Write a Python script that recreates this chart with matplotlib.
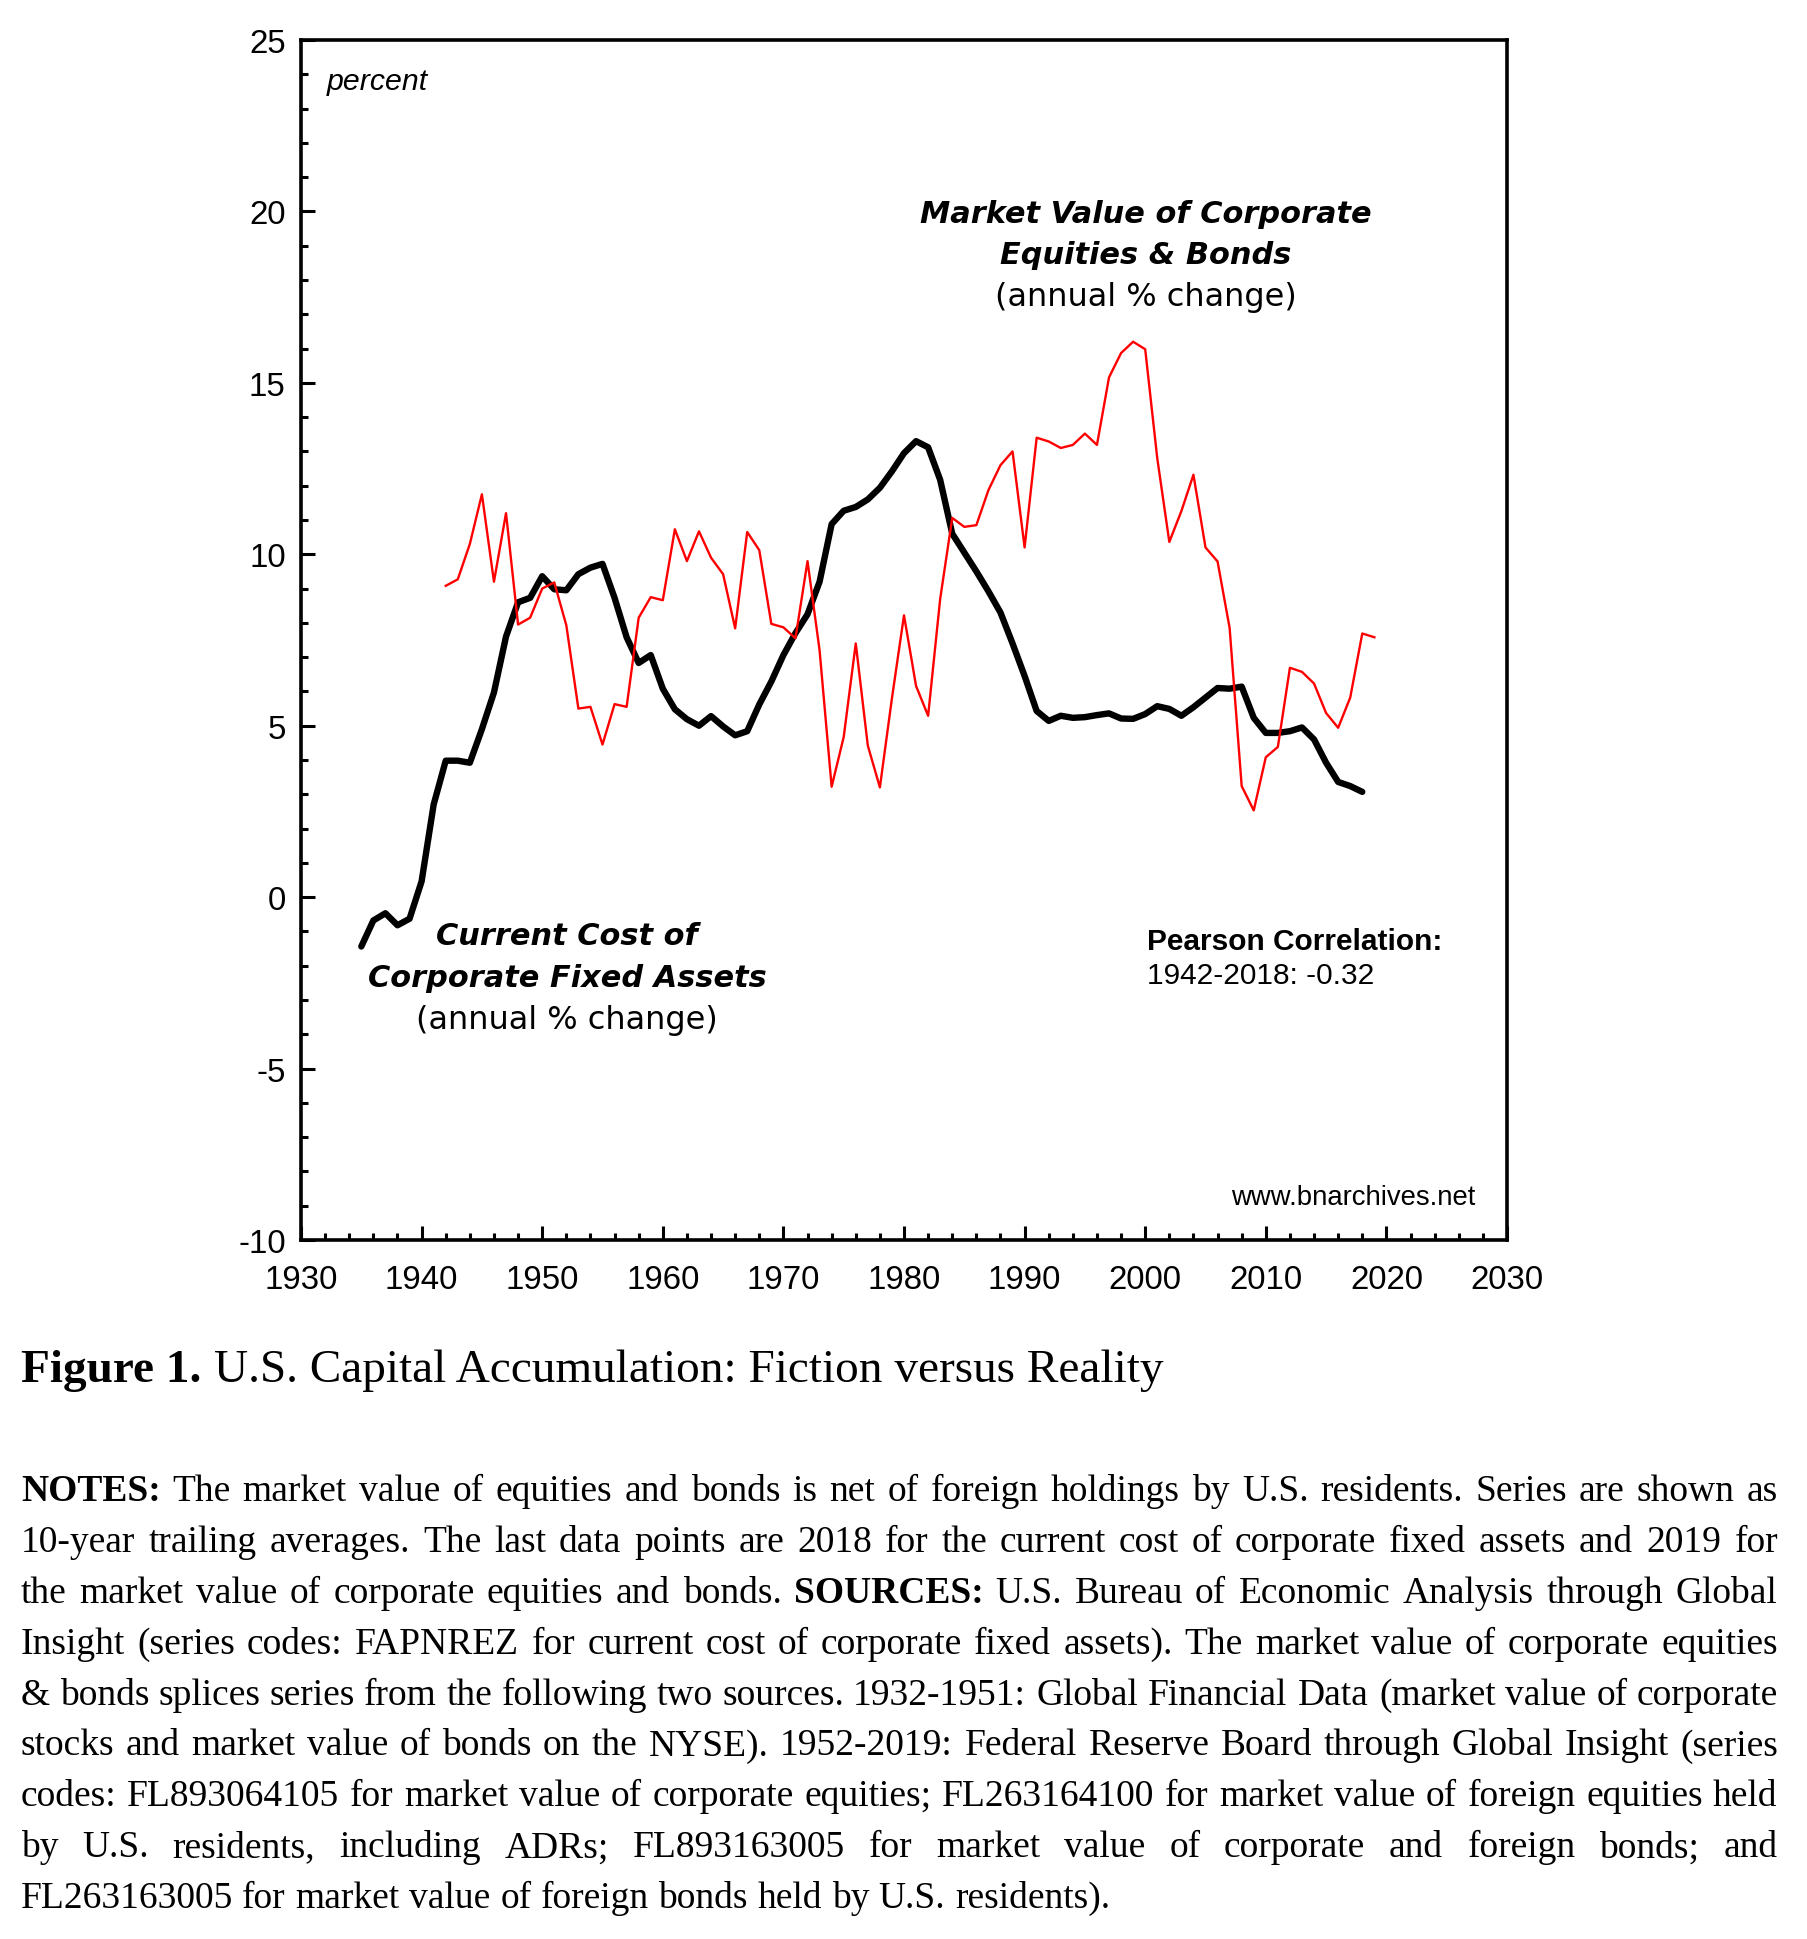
import matplotlib
matplotlib.use("Agg")
import matplotlib.pyplot as plt
from matplotlib.ticker import MultipleLocator

# ---------------- data ----------------
cost_years = list(range(1935, 2019))
cost_values = [
    -1.44, -0.68, -0.47, -0.82, -0.63, 0.46, 2.70, 3.98, 3.98, 3.92,   # 1935-1944
    4.90, 5.97, 7.60, 8.60, 8.73, 9.36, 8.98, 8.95, 9.42, 9.61,        # 1945-1954
    9.72, 8.73, 7.58, 6.83, 7.06, 6.08, 5.48, 5.19, 5.00, 5.28,        # 1955-1964
    4.98, 4.72, 4.84, 5.62, 6.29, 7.06, 7.70, 8.25, 9.20, 10.88,       # 1965-1974
    11.27, 11.38, 11.60, 11.94, 12.42, 12.95, 13.30, 13.12, 12.17, 10.60,  # 1975-1984
    10.05, 9.50, 8.92, 8.30, 7.40, 6.45, 5.43, 5.14, 5.29, 5.23,       # 1985-1994
    5.25, 5.31, 5.36, 5.21, 5.20, 5.34, 5.57, 5.49, 5.29, 5.54,        # 1995-2004
    5.82, 6.10, 6.08, 6.14, 5.23, 4.79, 4.79, 4.84, 4.95, 4.60,        # 2005-2014
    3.92, 3.36, 3.24, 3.07,                                            # 2015-2018
]

mkt_years = list(range(1942, 2020))
mkt_values = [
    9.08, 9.27, 10.30, 11.75, 9.20, 11.20, 7.95, 8.15,                 # 1942-1949
    9.00, 9.18, 7.93, 5.50, 5.55, 4.45, 5.63, 5.55, 8.15, 8.75,        # 1950-1959
    8.66, 10.73, 9.80, 10.67, 9.90, 9.42, 7.84, 10.65, 10.12, 7.97,    # 1960-1969
    7.87, 7.55, 9.80, 7.20, 3.22, 4.67, 7.40, 4.42, 3.20, 5.80,        # 1970-1979
    8.22, 6.16, 5.29, 8.70, 11.06, 10.80, 10.85, 11.87, 12.60, 13.00,  # 1980-1989
    10.20, 13.40, 13.29, 13.10, 13.19, 13.52, 13.19, 15.16, 15.87, 16.20,  # 1990-1999
    15.98, 12.80, 10.36, 11.26, 12.32, 10.20, 9.79, 7.85, 3.24, 2.53,  # 2000-2009
    4.08, 4.38, 6.69, 6.57, 6.23, 5.37, 4.94, 5.82, 7.69, 7.58,        # 2010-2019
]

x_limits = [1930, 2030]
y_limits = [-10, 25]

mkt_label = ["Market Value of Corporate", "Equities & Bonds", "(annual % change)"]
cost_label = ["Current Cost of", "Corporate Fixed Assets", "(annual % change)"]
corr_label = ["Pearson Correlation:", "1942-2018: -0.32"]
site_label = "www.bnarchives.net"
unit_label = "percent"

caption_bold = "Figure 1."
caption_rest = "U.S. Capital Accumulation: Fiction versus Reality"

note_lines = [
    "**NOTES:** The market value of equities and bonds is net of foreign holdings by U.S. residents. Series are shown as",
    "10-year trailing averages. The last data points are 2018 for the current cost of corporate fixed assets and 2019 for",
    "the market value of corporate equities and bonds. **SOURCES:** U.S. Bureau of Economic Analysis through Global",
    "Insight (series codes: FAPNREZ for current cost of corporate fixed assets). The market value of corporate equities",
    "& bonds splices series from the following two sources. 1932-1951: Global Financial Data (market value of corporate",
    "stocks and market value of bonds on the NYSE). 1952-2019: Federal Reserve Board through Global Insight (series",
    "codes: FL893064105 for market value of corporate equities; FL263164100 for market value of foreign equities held",
    "by U.S. residents, including ADRs; FL893163005 for market value of corporate and foreign bonds; and",
    "FL263163005 for market value of foreign bonds held by U.S. residents).",
]

# ---------------- figure ----------------
plt.rcParams['axes.unicode_minus'] = False
plt.rcParams['font.family'] = ['Liberation Sans', 'DejaVu Sans']

W, H, DPI = 1807, 1940, 100
fig = plt.figure(figsize=(W / DPI, H / DPI), dpi=DPI)
fig.patch.set_facecolor('white')


def fx(px):
    return px / W


def fy(py):
    return 1 - py / H


ax = fig.add_axes([fx(301), fy(1241), (1507 - 301) / W, (1241 - 41) / H])
ax.plot(cost_years, cost_values, color='black', lw=4.6,
        solid_joinstyle='round', solid_capstyle='round', zorder=3)
ax.plot(mkt_years, mkt_values, color='#ff0000', lw=1.7, zorder=4)

ax.set_xlim(*x_limits)
ax.set_ylim(*y_limits)
ax.xaxis.set_major_locator(MultipleLocator(10))
ax.xaxis.set_minor_locator(MultipleLocator(2))
ax.yaxis.set_major_locator(MultipleLocator(5))
ax.yaxis.set_minor_locator(MultipleLocator(1))
ax.tick_params(which='both', direction='in', top=False, right=False,
               color='black', width=2.2)
ax.tick_params(which='major', length=10, labelsize=23.8)
ax.tick_params(axis='x', which='major', pad=17)
ax.tick_params(axis='y', which='major', pad=11)
ax.tick_params(which='minor', length=5)
for s in ax.spines.values():
    s.set_linewidth(2.6)

# annotations
ax.text(0.0216, 0.966, unit_label, transform=ax.transAxes, fontsize=21.8,
        style='italic', ha='left', va='center')

bi = dict(family='DejaVu Sans', weight='bold', style='italic', fontsize=21.9,
          ha='center', va='center', transform=ax.transAxes)
rg = dict(family='DejaVu Sans', fontsize=23, ha='center', va='center',
          transform=ax.transAxes)
ax.text(0.7007, 0.855, mkt_label[0], **bi)
ax.text(0.7007, 0.821, mkt_label[1], **bi)
ax.text(0.7007, 0.786, mkt_label[2], **rg)

ax.text(0.2205, 0.254, cost_label[0], **bi)
ax.text(0.2205, 0.219, cost_label[1], **bi)
ax.text(0.2205, 0.184, cost_label[2], **rg)

ax.text(0.7015, 0.249, corr_label[0], transform=ax.transAxes, fontsize=21.5,
        weight='bold', ha='left', va='center')
ax.text(0.7015, 0.221, corr_label[1], transform=ax.transAxes, fontsize=21.5,
        ha='left', va='center')
ax.text(0.9735, 0.036, site_label, transform=ax.transAxes, fontsize=19.8,
        ha='right', va='center')

# ---------------- caption & notes (justified) ----------------
renderer = fig.canvas.get_renderer()
SERIF = 'Liberation Serif'


def measure(s, weight, size):
    t = fig.text(0, 0, s, fontsize=size, family=SERIF, weight=weight)
    w = t.get_window_extent(renderer).width
    t.remove()
    return w


REF = 10.0
sp_ref = measure('a a', 'normal', REF) - measure('aa', 'normal', REF)

# caption
cb = measure(caption_bold, 'bold', REF)
cr = measure(caption_rest, 'normal', REF)
cap_size = REF * (1163 - 21) / (cb + sp_ref + cr)
k = cap_size / REF
fig.text(fx(21), fy(1382), caption_bold, fontsize=cap_size, family=SERIF,
         weight='bold', ha='left', va='baseline')
fig.text(fx(21 + (cb + sp_ref) * k), fy(1382), caption_rest, fontsize=cap_size,
         family=SERIF, ha='left', va='baseline')


def tokens(line):
    out = []
    for w in line.split(' '):
        if w.startswith('**') and w.endswith('**'):
            out.append((w.strip('*'), 'bold'))
        else:
            out.append((w, 'normal'))
    return out


left, right = 21, 1778
target = right - left
toks = [tokens(l) for l in note_lines]
widths = [[measure(w, wt, REF) for w, wt in tl] for tl in toks]
natural = [sum(ws) + sp_ref * (len(ws) - 1) for ws in widths]
note_size = REF * min(target / n for n in natural[:-1])
k = note_size / REF

base0, step = 1501, 50.9
for i, (tl, ws) in enumerate(zip(toks, widths)):
    ws = [w * k for w in ws]
    if i < len(toks) - 1:
        gap = (target - sum(ws)) / (len(ws) - 1)
    else:
        gap = sp_ref * k
    x = left
    y = base0 + i * step
    for (w, wt), wd in zip(tl, ws):
        fig.text(fx(x), fy(y), w, fontsize=note_size, family=SERIF, weight=wt,
                 ha='left', va='baseline')
        x += wd + gap

fig.savefig('out.png', dpi=DPI, facecolor='white')
